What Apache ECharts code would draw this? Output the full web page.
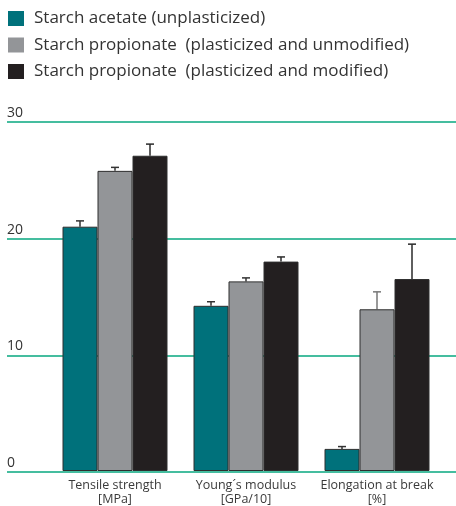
<!DOCTYPE html>
<html>
<head>
<meta charset="utf-8">
<script src="https://cdn.jsdelivr.net/npm/echarts@6/dist/echarts.min.js"></script>
<style>
  html, body { margin: 0; padding: 0; background: #fff; }
  #chart { width: 456px; height: 506px; }
</style>
</head>
<body>
<div id="chart"></div>
<script>
// Property categories on the x axis
const categories = ['Tensile strength\n[MPa]', 'Young\u00b4s modulus\n[GPa/10]', 'Elongation at break\n[%]'];

// Series names
const seriesNames = [
  'Starch acetate (unplasticized)',
  'Starch propionate  (plasticized and unmodified)',
  'Starch propionate  (plasticized and modified)'
];

// Mean values per series
const acetateValues = [21.0, 14.2, 1.9];
const propUnmodValues = [25.8, 16.3, 13.9];
const propModValues = [27.1, 18.0, 16.5];

// Upper error (standard deviation) per series
const acetateErr = [0.5, 0.35, 0.2];
const propUnmodErr = [0.3, 0.3, 1.5];
const propModErr = [1.0, 0.4, 3.0];

// Value axis ticks
const yTicks = [0, 10, 20, 30];

const colors = ['#00717b', '#939598', '#231f20'];
const errColors = ['#333333', '#333333', '#2a2a2a'];
const BAR_W = 35;

const values = [acetateValues, propUnmodValues, propModValues];
const errors = [acetateErr, propUnmodErr, propModErr];

const chart = echarts.init(document.getElementById('chart'));

const barSeries = values.map((vals, i) => ({
  name: seriesNames[i],
  type: 'bar',
  xAxisIndex: 1,
  yAxisIndex: 1,
  data: vals,
  barWidth: BAR_W,
  barGap: '0%',
  itemStyle: { color: colors[i], borderColor: '#2e2e2e', borderWidth: 1 },
  z: 3
}));

const errorSeries = values.map((vals, i) => ({
  type: 'custom',
  xAxisIndex: 1,
  yAxisIndex: 1,
  z: 2,
  silent: true,
  data: vals.map((v, k) => [k, v, v + errors[i][k]]),
  renderItem: function (params, api) {
    const k = api.value(0);
    const base = api.coord([k, api.value(1)]);
    const top = api.coord([k, api.value(2)]);
    const x = base[0] + (i - 1) * BAR_W;
    const style = { stroke: (i === 1 && k === 2) ? '#777' : errColors[i], lineWidth: 1.5 };
    return {
      type: 'group',
      children: [
        { type: 'line', shape: { x1: x, y1: base[1], x2: x, y2: top[1] }, style: style },
        { type: 'line', shape: { x1: x - 4, y1: top[1], x2: x + 4, y2: top[1] }, style: style }
      ]
    };
  }
}));

chart.setOption({
  animation: false,
  textStyle: { fontFamily: 'Open Sans' },
  legend: {
    orient: 'vertical',
    left: 8,
    top: 10,
    padding: 0,
    itemWidth: 16,
    itemHeight: 15,
    itemGap: 9.5,
    icon: 'rect',
    itemStyle: { borderWidth: 0 },
    data: seriesNames,
    textStyle: { fontSize: 17, lineHeight: 17, color: '#333', fontFamily: 'Open Sans', padding: [0, 0, 0, 5] }
  },
  grid: [
    { left: 7, right: 0, top: 122, bottom: 34 },
    { left: 49.5, width: 393, top: 122, bottom: 34 }
  ],
  xAxis: [
    { gridIndex: 0, type: 'value', show: false, min: 0, max: 1 },
    {
      gridIndex: 1,
      type: 'category',
      data: categories,
      axisLine: { show: false },
      axisTick: { show: false },
      axisLabel: { interval: 0, fontSize: 12.5, color: '#3a3a3a', lineHeight: 14, margin: 7, fontFamily: 'Open Sans' }
    }
  ],
  yAxis: [
    {
      gridIndex: 0,
      type: 'value',
      min: yTicks[0],
      max: yTicks[yTicks.length - 1],
      interval: 10,
      axisLine: { show: false },
      axisTick: { show: false },
      axisLabel: {
        inside: true,
        margin: 0,
        verticalAlign: 'bottom',
        fontSize: 14,
        color: '#333',
        padding: [0, 0, 2, 0],
        fontFamily: 'Open Sans'
      },
      splitLine: { lineStyle: { color: '#45bd9f', width: 2 } }
    },
    {
      gridIndex: 1,
      type: 'value',
      min: yTicks[0],
      max: yTicks[yTicks.length - 1],
      interval: 10,
      show: false,
      splitLine: { show: false }
    }
  ],
  series: [...barSeries, ...errorSeries]
});
</script>
</body>
</html>
